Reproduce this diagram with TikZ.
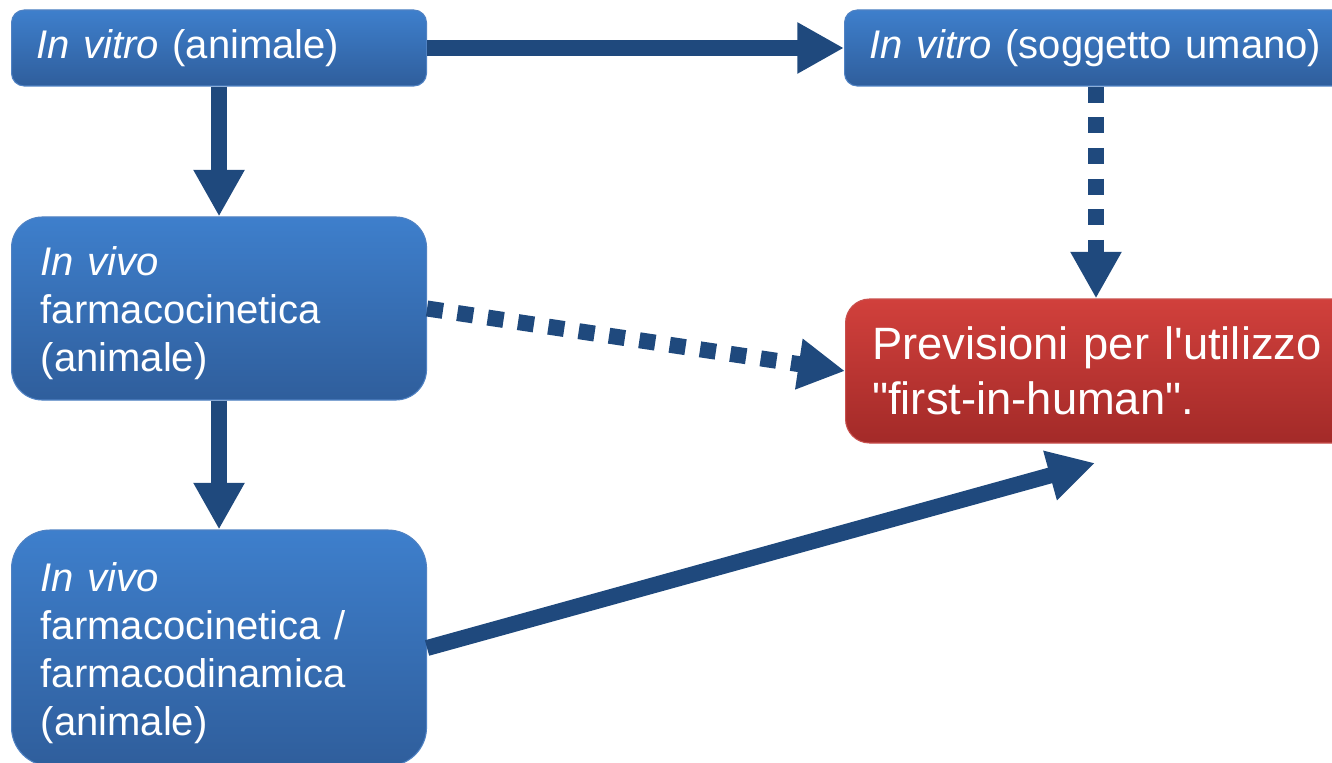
\documentclass[tikz,border=0pt]{standalone}
\usepackage{fontspec}
\setmainfont{Liberation Sans}[Ligatures=TeXOff]
\usetikzlibrary{arrows.meta,calc}
\definecolor{arrblue}{RGB}{31,73,125}
\definecolor{btop}{RGB}{62,127,204}
\definecolor{bbot}{RGB}{47,94,156}
\definecolor{bline}{RGB}{80,130,195}
\definecolor{rtop}{RGB}{209,64,60}
\definecolor{rbot}{RGB}{163,42,40}
\definecolor{rline}{RGB}{200,80,77}
\tikzset{
  bluebox/.style={draw=bline, line width=0.8pt, top color=btop, bottom color=bbot,
    text=white, anchor=west, align=left, inner xsep=19pt, inner ysep=0pt,
    font=\fontsize{30}{36}\selectfont},
  redbox/.style={draw=rline, line width=0.8pt, top color=rtop, bottom color=rbot,
    text=white, anchor=west, align=left, inner xsep=20pt, inner ysep=0pt,
    font=\fontsize{34}{41}\selectfont},
  arr/.style={draw=arrblue, line width=12pt, -{Triangle[length=35pt,width=36pt]}, arrblue},
  dotarr/.style={arr, dash pattern=on 12pt off 11pt}
}
\begin{document}
\begin{tikzpicture}[x=0.75pt,y=-0.75pt]
\useasboundingbox (0,0) rectangle (1332,763);
\clip (0,0) rectangle (1332,763);
\node[bluebox, rounded corners=9.5pt, text width=273.25pt, minimum height=57pt] (b1) at (11,48)
  {\textit{In vitro} (animale)};
\node[bluebox, rounded corners=9.5pt, text width=360pt, minimum height=57pt] (b2) at (844,48)
  {\textit{In vitro} (soggetto umano)};
\node[bluebox, inner xsep=22pt, rounded corners=23pt, text width=267.25pt, minimum height=137.25pt] (b3) at (11,308.5)
  {\rule{0pt}{29pt}\textit{In vivo}\\farmacocinetica\\(animale)};
\node[bluebox, inner xsep=22pt, rounded corners=29pt, text width=267.25pt, minimum height=177pt] (b4) at (11,648)
  {\rule{0pt}{29pt}\textit{In vivo}\\farmacocinetica /\\farmacodinamica\\(animale)};
\node[redbox, rounded corners=18pt, text width=360pt, minimum height=108pt] (r) at (845,371)
  {Previsioni per l'utilizzo\\"first-in-human".};
\coordinate (xa) at (1096,0);
\coordinate (t) at (1095,463);
\draw[arr] (b1.east) -- (b2.west);
\draw[arr] (b1.south) -- (b3.north);
\draw[arr] (b3.south) -- (b4.north);
\draw[dotarr] (xa |- b2.south) -- (xa |- r.north);
\draw[dotarr] (b3.east) -- (r.west);
\draw[arr] (b4.east) -- (t);
\end{tikzpicture}
\end{document}
